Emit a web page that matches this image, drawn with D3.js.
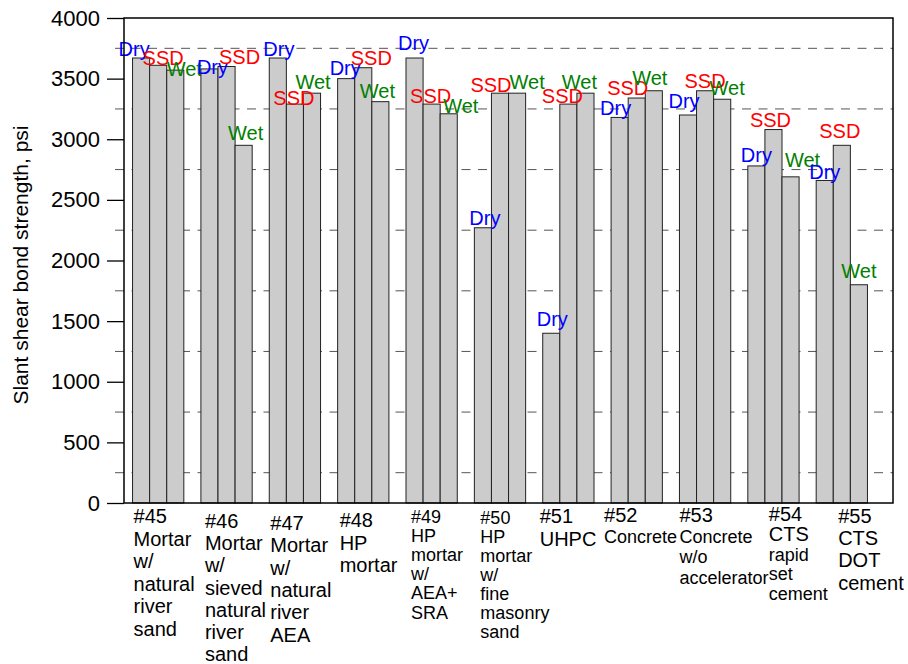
<!DOCTYPE html>
<html lang="en">

<head>
    <meta charset="UTF-8">
    <title>Slant shear bond strength</title>
    <script src="https://d3js.org/d3.v7.min.js"></script>
    <style>
        body { margin: 0; background: #fff; }
        text { font-family: "Liberation Sans", Arial, Helvetica, sans-serif; }
        .bar { fill: #cccccc; stroke: #222; stroke-width: 1; }
        .grid { stroke: #555; stroke-width: 1; stroke-dasharray: 9 7.5; }
    </style>
</head>

<body>

    <svg id="chart"></svg>

    <script>
        // data
        const groups = ["#45", "#46", "#47", "#48", "#49", "#50", "#51", "#52", "#53", "#54", "#55"];
        const conditions = ["Dry", "SSD", "Wet"];
        const dry = [3670, 3580, 3670, 3500, 3670, 2270, 1400, 3180, 3200, 2780, 2660];
        const ssd = [3610, 3600, 3290, 3590, 3290, 3380, 3290, 3340, 3400, 3080, 2950];
        const wet = [3570, 2950, 3380, 3310, 3210, 3380, 3380, 3400, 3330, 2690, 1800];
        const groupLines = [
            ["#45", "Mortar", "w/", "natural", "river", "sand"],
            ["#46", "Mortar", "w/", "sieved", "natural", "river", "sand"],
            ["#47", "Mortar", "w/", "natural", "river", "AEA"],
            ["#48", "HP", "mortar"],
            ["#49", "HP", "mortar", "w/", "AEA+", "SRA"],
            ["#50", "HP", "mortar", "w/", "fine", "masonry", "sand"],
            ["#51", "UHPC"],
            ["#52", "Concrete"],
            ["#53", "Concrete", "w/o", "accelerator"],
            ["#54", "CTS", "rapid", "set", "cement"],
            ["#55", "CTS", "DOT", "cement"]
        ];
        const yTicks = [0, 500, 1000, 1500, 2000, 2500, 3000, 3500, 4000];
        const gridValues = [250, 750, 1250, 1750, 2250, 2750, 3250, 3750];

        // layout only: hand placement of the condition labels [dx, dy] per bar
        const labelNudge = [
            [[-7, -2], [5, 0], [9, 6]],
            [[3, 5], [13, -3], [2, -5]],
            [[1, -2], [-1, 1], [1, -4]],
            [[-1, -4], [8, -3], [-3, -4]],
            [[-1, -8], [-1, -1], [12, -1]],
            [[2, -3], [-9, -1], [10, -4]],
            [[1, -7], [-6, -1], [-6, -4]],
            [[-4, -2], [-9, -3], [-4, -6]],
            [[-4, -7], [0, -3], [5, -4]],
            [[0, -4], [-3, -3], [12, -10]],
            [[0, -1], [-2, -7], [0, -7]]
        ];
        // category label layout: x shift, first baseline, line step, font size per line
        const catLayout = [
            { dx: 1, y0: 523, lh: 22.5, sizes: [20] },
            { dx: 4, y0: 528, lh: 22.2, sizes: [20] },
            { dx: 1, y0: 530, lh: 22.3, sizes: [20] },
            { dx: 2, y0: 527, lh: 22.5, sizes: [20] },
            { dx: 5, y0: 523, lh: 19.1, sizes: [18] },
            { dx: 6, y0: 524, lh: 19, sizes: [18] },
            { dx: -3, y0: 523, lh: 23.3, sizes: [20] },
            { dx: -7, y0: 522, lh: 21, sizes: [20, 18] },
            { dx: 0, y0: 522, lh: 20.5, sizes: [20, 18] },
            { dx: 21, y0: 521, lh: 19.8, sizes: [20, 20, 18] },
            { dx: 22, y0: 523, lh: 22.2, sizes: [20] }
        ];

        const width = 908, height = 664;
        const plotL = 124, plotR = 893, plotT = 18, plotB = 503;
        const colors = { Dry: "#0000ff", SSD: "#ff0000", Wet: "#008000" };

        const table = groups.map((g, i) => ({
            group: g,
            values: [dry[i], ssd[i], wet[i]].map((v, j) => ({ cond: conditions[j], value: v, gi: i, ci: j }))
        }));

        const svg = d3.select("#chart")
            .attr("width", width)
            .attr("height", height);

        const x = d3.scaleBand().domain(groups).range([plotL, 876]).paddingInner(0.25).paddingOuter(0.125);
        const xc = d3.scaleBand().domain(conditions).range([0, x.bandwidth()]);
        const y = d3.scaleLinear().domain([0, 4000]).range([plotB, plotT]);

        // dashed gridlines, starting just left of the axis like minor ticks
        svg.append("g")
            .selectAll("line")
            .data(gridValues)
            .join("line")
            .attr("class", "grid")
            .attr("x1", 115)
            .attr("x2", plotR)
            .attr("y1", d => y(d))
            .attr("y2", d => y(d));

        // bars
        const g = svg.append("g")
            .selectAll("g")
            .data(table)
            .join("g")
            .attr("transform", d => `translate(${x(d.group)},0)`);

        g.selectAll("rect")
            .data(d => d.values)
            .join("rect")
            .attr("class", "bar")
            .attr("x", d => xc(d.cond))
            .attr("y", d => y(d.value))
            .attr("width", xc.bandwidth())
            .attr("height", d => plotB - y(d.value));

        // frame
        svg.append("rect")
            .attr("x", plotL)
            .attr("y", plotT)
            .attr("width", plotR - plotL)
            .attr("height", plotB - plotT)
            .attr("fill", "none")
            .attr("stroke", "#000")
            .attr("stroke-width", 1.5);

        // y axis
        const yAxis = svg.append("g")
            .attr("transform", `translate(${plotL},0)`)
            .call(d3.axisLeft(y).tickValues(yTicks).tickSize(17).tickPadding(7).tickFormat(d3.format("d")));
        yAxis.select(".domain").remove();
        yAxis.selectAll(".tick line").attr("stroke", "#000").attr("stroke-width", 1.3);
        yAxis.selectAll(".tick text")
            .attr("font-size", 22)
            .attr("fill", "#000")
            .style("font-family", '"Liberation Sans", Arial, sans-serif');

        svg.append("text")
            .attr("transform", "translate(28,265) rotate(-90)")
            .attr("text-anchor", "middle")
            .attr("font-size", 21)
            .text("Slant shear bond strength, psi");

        // condition labels above bars
        g.selectAll("text.cond")
            .data(d => d.values)
            .join("text")
            .attr("class", "cond")
            .attr("text-anchor", "middle")
            .attr("font-size", 20)
            .attr("fill", d => colors[d.cond])
            .attr("x", d => xc(d.cond) + xc.bandwidth() / 2 + labelNudge[d.gi][d.ci][0])
            .attr("y", d => y(d.value) + labelNudge[d.gi][d.ci][1])
            .text(d => d.cond);

        // multi-line category labels
        const cat = svg.append("g")
            .selectAll("text")
            .data(groups)
            .join("text")
            .attr("x", (d, i) => x(d) + catLayout[i].dx)
            .attr("y", (d, i) => catLayout[i].y0);

        cat.selectAll("tspan")
            .data((d, i) => groupLines[i].map((line, k) => ({ line, k, lay: catLayout[i], x: x(d) + catLayout[i].dx })))
            .join("tspan")
            .attr("x", d => d.x)
            .attr("dy", d => d.k === 0 ? 0 : d.lay.lh)
            .attr("font-size", d => d.lay.sizes[Math.min(d.k, d.lay.sizes.length - 1)])
            .text(d => d.line);
    </script>
</body>

</html>
